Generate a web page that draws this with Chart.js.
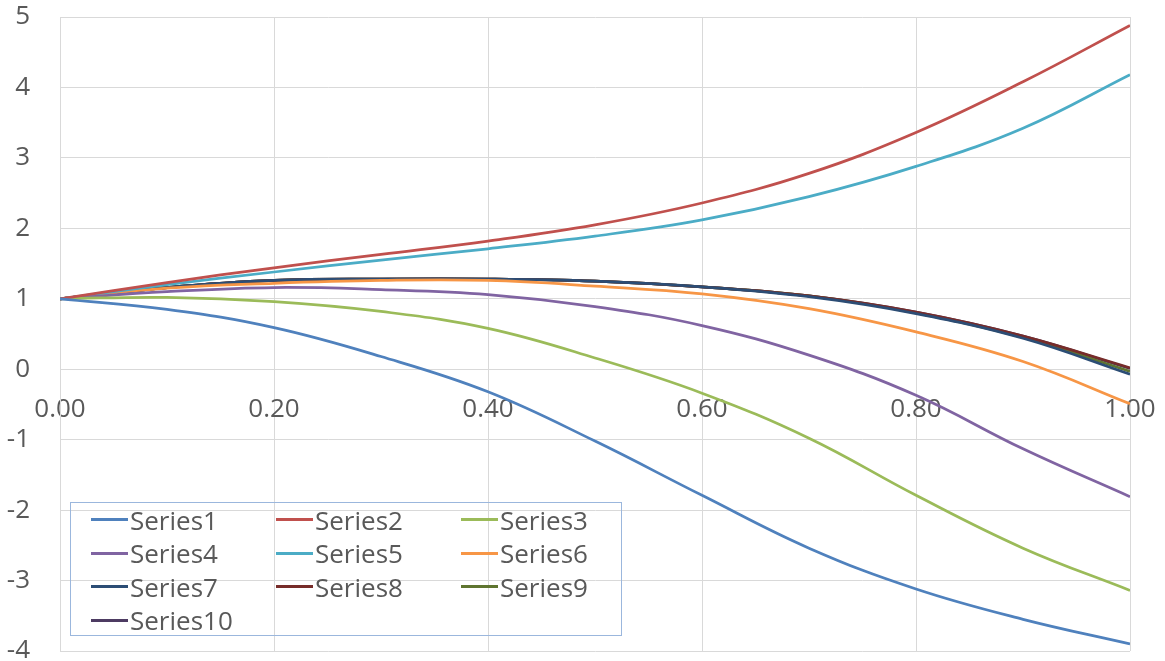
<!DOCTYPE html>
<html>
<head>
<meta charset="utf-8">
<title>Series1–Series10</title>
<script src="https://cdn.jsdelivr.net/npm/chart.js@4/dist/chart.umd.min.js"></script>
<style>
  html, body { margin: 0; padding: 0; background: #ffffff; }
  #wrap { position: relative; width: 1165px; height: 661px; }
  #chart { display: block; }
  #legend {
    position: absolute; left: 70px; top: 502px; width: 550px; height: 132px;
    border: 1px solid #9bb7dd; box-sizing: content-box;
    display: grid; grid-template-columns: 185px 185px 180px; grid-auto-rows: 33.5px;
    font-family: "Open Sans", sans-serif; font-size: 26px; color: #595959;
  }
  #legend .item { display: flex; align-items: center; padding-left: 20px; white-space: nowrap; }
  #legend .swatch { width: 37px; height: 3px; margin-right: 2px; flex: none; }
</style>
</head>
<body>
<div id="wrap">
  <canvas id="chart" width="1165" height="661"></canvas>
  <div id="legend"></div>
</div>
<script>
// x positions shared by every series
const xValues = [0.0, 0.1, 0.2, 0.3, 0.4, 0.5, 0.6, 0.7, 0.8, 0.9, 1.0];

const series1  = [1, 0.85, 0.59, 0.18, -0.32, -1.02, -1.79, -2.54, -3.12, -3.55, -3.90];
const series2  = [1, 1.23, 1.44, 1.63, 1.82, 2.05, 2.36, 2.78, 3.36, 4.08, 4.88];
const series3  = [1, 1.02, 0.96, 0.82, 0.58, 0.16, -0.34, -0.98, -1.79, -2.54, -3.14];
const series4  = [1, 1.10, 1.16, 1.13, 1.06, 0.89, 0.62, 0.20, -0.37, -1.13, -1.81];
const series5  = [1, 1.20, 1.38, 1.55, 1.71, 1.89, 2.12, 2.45, 2.88, 3.42, 4.18];
const series6  = [1, 1.15, 1.22, 1.26, 1.26, 1.18, 1.07, 0.86, 0.53, 0.11, -0.49];
const series7  = [1, 1.16, 1.26, 1.28, 1.28, 1.25, 1.17, 1.03, 0.79, 0.44, -0.07];
const series8  = [1, 1.16, 1.26, 1.28, 1.28, 1.25, 1.17, 1.04, 0.81, 0.47, 0.02];
const series9  = [1, 1.16, 1.26, 1.28, 1.28, 1.25, 1.17, 1.04, 0.80, 0.45, -0.03];
const series10 = [1, 1.16, 1.26, 1.28, 1.28, 1.25, 1.17, 1.04, 0.81, 0.47, 0.01];

const seriesNames = ["Series1", "Series2", "Series3", "Series4", "Series5",
                     "Series6", "Series7", "Series8", "Series9", "Series10"];
const seriesColors = ["#4F81BD", "#C0504D", "#9BBB59", "#8064A2", "#4BACC6",
                      "#F79646", "#2C4D75", "#772C2A", "#5F7530", "#4D3B62"];
const seriesValues = [series1, series2, series3, series4, series5,
                      series6, series7, series8, series9, series10];

// axis ranges and tick spacing
const xMin = 0, xMax = 1, xStep = 0.2;
const yMin = -4, yMax = 5, yStep = 1;

const textColor = "#595959";
const gridColor = "#d9d9d9";
const tickFont = { family: "'Open Sans', sans-serif", size: 26 };

const datasets = seriesValues.map((vals, i) => ({
  label: seriesNames[i],
  data: vals.map((v, j) => ({ x: xValues[j], y: v })),
  borderColor: seriesColors[i],
  backgroundColor: seriesColors[i],
  borderWidth: 2.75,
  pointRadius: 0,
  pointHoverRadius: 0,
  fill: false,
  tension: 0.4
}));

const chart = new Chart(document.getElementById("chart"), {
  type: "line",
  data: { datasets },
  options: {
    responsive: false,
    devicePixelRatio: 1,
    animation: false,
    events: [],
    layout: { padding: { top: 17, right: 35, bottom: 10, left: 0 } },
    plugins: {
      legend: { display: false },
      tooltip: { enabled: false }
    },
    scales: {
      x: {
        type: "linear",
        position: { y: 0 },
        min: xMin, max: xMax,
        ticks: {
          stepSize: xStep,
          color: textColor,
          font: tickFont,
          padding: 25,
          maxRotation: 0,
          callback: (v) => Number(v).toFixed(2)
        },
        grid: { color: gridColor, lineWidth: 1, drawTicks: false },
        border: { color: gridColor, width: 1 },
        afterFit: (scale) => {
          scale.paddingLeft = 0;
          scale.paddingRight = 0;
        }
      },
      y: {
        type: "linear",
        position: "left",
        min: yMin, max: yMax,
        ticks: {
          stepSize: yStep,
          color: textColor,
          font: tickFont,
          padding: 30
        },
        grid: { color: gridColor, lineWidth: 1, drawTicks: false },
        border: { color: gridColor, width: 1 },
        afterFit: (scale) => {
          scale.width = 60;
          scale.paddingTop = 0;
          scale.paddingBottom = 0;
        }
      }
    }
  }
});

// legend built from the chart's own legend items, laid out in three columns
const legendEl = document.getElementById("legend");
const items = Chart.defaults.plugins.legend.labels.generateLabels(chart);
items.forEach((it) => {
  const row = document.createElement("div");
  row.className = "item";
  const sw = document.createElement("span");
  sw.className = "swatch";
  sw.style.background = it.strokeStyle;
  const tx = document.createElement("span");
  tx.textContent = it.text;
  row.appendChild(sw);
  row.appendChild(tx);
  legendEl.appendChild(row);
});
</script>
</body>
</html>
